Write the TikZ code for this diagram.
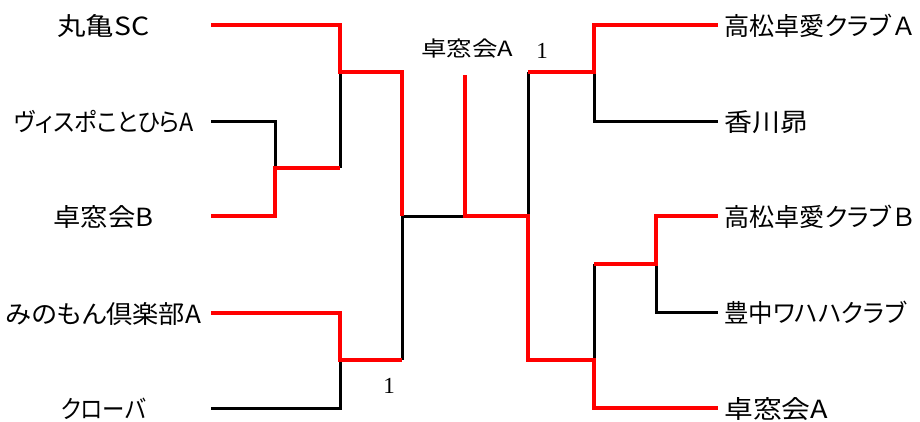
\documentclass[tikz,border=0pt]{standalone}
\usepackage{fontspec}
\usepackage{graphicx}
\newfontfamily\jp[RawFeature=+palt]{Noto Sans CJK JP}
\newfontfamily\jpf{Noto Sans CJK JP}
\newfontfamily\numf{Liberation Serif}
\newcommand{\fitw}[2]{\resizebox{#1pt}{\height}{#2}}
\begin{document}
\begin{tikzpicture}[x=1pt,y=-1pt,
  team/.style={font=\jp\fontsize{25}{25}\selectfont, inner sep=0pt},
  mid/.style={font=\jp\fontsize{21}{21}\selectfont, inner sep=0pt},
  score/.style={font=\numf\fontsize{23}{23}\selectfont, inner sep=0pt},
  lose/.style={draw=black, line width=3pt},
  win/.style={draw=red, line width=4pt},
  line join=miter]
\useasboundingbox (0,0) rectangle (920,421);
% team labels
\node[team] (L1) at (103.5,26) {\fitw{92}{丸亀SC}};
\node[team] (L2) at (104,122) {\fitw{180}{ヴィスポことひらA}};
\node[team] (L3) at (103.5,217) {\fitw{100}{卓窓会B}};
\node[team] (L4) at (103.5,314) {\fitw{195}{みのもん倶楽部A}};
\node[team] (L5) at (103.5,409) {\fitw{85}{クローバ}};
\node[team, anchor=west] (R1) at (724,26) {\fitw{192}{高松卓愛クラブ{\jpf Ａ}}};
\node[team, anchor=west] (R2) at (724,122) {\fitw{84}{香川昴}};
\node[team, anchor=west] (R3) at (724,217) {\fitw{192}{高松卓愛クラブ{\jpf Ｂ}}};
\node[team, anchor=west] (R4) at (724,313) {\fitw{182}{豊中ワハハクラブ}};
\node[team, anchor=west] (R5) at (724,409) {\fitw{104}{卓窓会A}};
\node[mid] (champ) at (467,49) {\fitw{92}{卓窓会A}};
\node[score] (s1) at (542,51) {1};
\node[score] (s2) at (389,386) {1};
% line ends and joints
\coordinate (l1) at (211,25);  \coordinate (l2) at (211,121);
\coordinate (l3) at (211,216); \coordinate (l4) at (211,313);
\coordinate (l5) at (211,408);
\coordinate (r1) at (718,25);  \coordinate (r2) at (718,121);
\coordinate (r3) at (718,216); \coordinate (r4) at (718,312);
\coordinate (r5) at (718,408);
\coordinate (ct) at (465,75);
% black (losing) lines
\draw[lose] (l2) -- (275,121) -- (275,168);
\draw[lose] (340,72) -- (340,168);
\draw[lose] (402,216) -- (402,360);
\draw[lose] (l5) -- (340,408) -- (340,360);
\draw[lose] (402,216) -- (465,216);
\draw[lose] (528,72) -- (528,216);
\draw[lose] (594,72) -- (594,121) -- (r2);
\draw[lose] (594,264) -- (594,360);
\draw[lose] (656,264) -- (656,312) -- (r4);
% red (winning) lines
\draw[win] (l1) -- (340,25) -- (340,72) -- (402,72) -- (402,216);
\draw[win] (l3) -- (275,216) -- (275,168) -- (340,168);
\draw[win] (l4) -- (340,313) -- (340,360) -- (402,360);
\draw[win] (ct) -- (465,216) -- (528,216) -- (528,360) -- (594,360) -- (594,408) -- (r5);
\draw[win] (528,72) -- (594,72) -- (594,25) -- (r1);
\draw[win] (594,264) -- (656,264) -- (656,216) -- (r3);
\end{tikzpicture}
\end{document}
